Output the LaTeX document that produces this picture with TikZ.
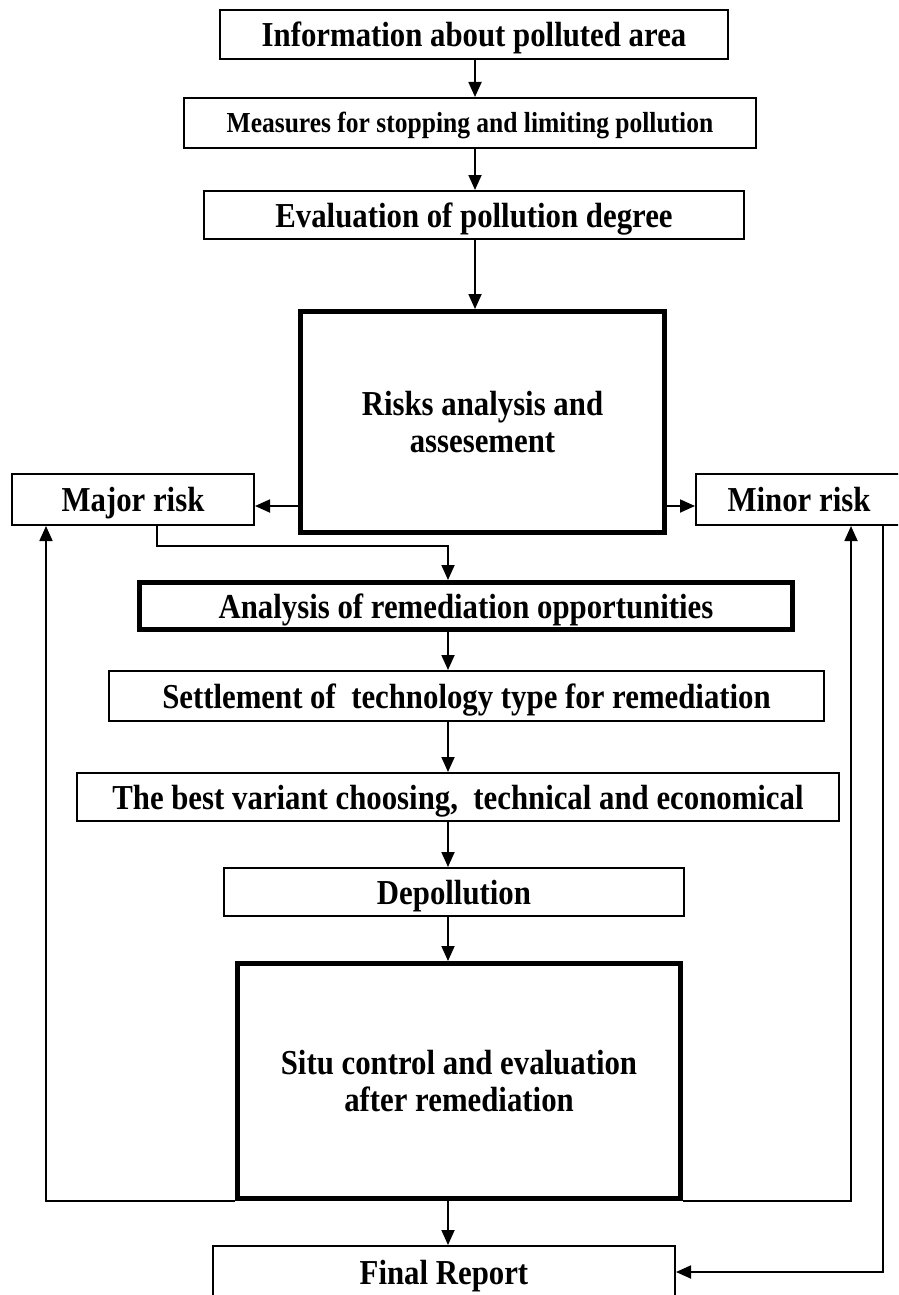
\documentclass[tikz,border=0pt]{standalone}
\usepackage{fontspec}
\setmainfont{Liberation Serif}
\newfontfamily\condfont[FakeStretch=0.88]{Liberation Serif}
\usetikzlibrary{arrows.meta}
\begin{document}
\begin{tikzpicture}[x=1pt,y=1pt,
  box/.style={draw=black, line width=2pt, fill=white, inner sep=0pt, align=center,
    font=\condfont\fontsize{35}{37}\selectfont\bfseries},
  thickbox/.style={box, line width=5pt},
  onerow/.style={text height=28pt, text depth=4pt},
  arr/.style={draw=black, line width=1.8pt, -{Triangle[length=15pt,width=13pt]}},
  ln/.style={draw=black, line width=1.8pt}]
\useasboundingbox (0,0) rectangle (898,-1295);
\clip (0,0) rectangle (898,-1295);
\fill[white] (0,0) rectangle (898,-1295);
% axes
\coordinate (tx) at (475,0);
\coordinate (ax) at (448,0);
\coordinate (ry) at (0,-506);
\coordinate (jy) at (0,-546);
% nodes
\node[box, onerow, minimum width=508pt, minimum height=49pt] (n1) at (474,-34.5) {Information about polluted area};
\node[box, minimum width=572pt, minimum height=50pt, text height=23pt, text depth=3.5pt, font=\condfont\fontsize{29}{32}\selectfont\bfseries] (n2) at (470,-123) {Measures for stopping and limiting pollution};
\node[box, onerow, minimum width=540pt, minimum height=48pt] (n3) at (474,-215) {Evaluation of pollution degree};
\node[thickbox, minimum width=364pt, minimum height=221pt] (n4) at (482.5,-422) {Risks analysis and\\assesement};
\node[box, onerow, minimum width=242pt, minimum height=51pt] (major) at (133,-499.5) {Major risk};
\node[box, onerow, minimum width=206pt, minimum height=51pt] (minor) at (799,-499.5) {Minor risk};
\node[thickbox, onerow, minimum width=653pt, minimum height=47pt] (anal) at (466,-606) {Analysis of remediation opportunities};
\node[box, onerow, minimum width=715pt, minimum height=50pt] (settle) at (466.5,-696) {Settlement of\ \ technology type for remediation};
\node[box, onerow, minimum width=762pt, minimum height=48pt] (best) at (458,-797) {The best variant choosing,\ \ technical and economical};
\node[box, onerow, minimum width=460pt, minimum height=48pt] (depol) at (454,-892) {Depollution};
\node[thickbox, minimum width=443pt, minimum height=235pt] (situ) at (459,-1081) {Situ control and evaluation\\after remediation};
\node[box, onerow, minimum width=462pt, minimum height=52pt] (final) at (444,-1272) {Final Report};
% connectors, top axis
\draw[arr] (n1.south -| tx) -- (n2.north -| tx);
\draw[arr] (n2.south -| tx) -- (n3.north -| tx);
\draw[arr] (n3.south -| tx) -- (n4.north -| tx);
% side branches
\draw[arr] (n4.west |- ry) -- (major.east |- ry);
\draw[arr] (n4.east |- ry) -- (minor.west |- ry);
% major risk to analysis
\draw[arr] ([xshift=146pt]major.south west) |- (jy -| ax) -- (anal.north -| ax);
% lower axis
\draw[arr] (anal.south -| ax) -- (settle.north -| ax);
\draw[arr] (settle.south -| ax) -- (best.north -| ax);
\draw[arr] (best.south -| ax) -- (depol.north -| ax);
\draw[arr] (depol.south -| ax) -- (situ.north -| ax);
\draw[arr] (situ.south -| ax) -- (final.north -| ax);
% feedback loops
\draw[arr] (situ.south west) -| ([xshift=35pt]major.south west);
\draw[arr] (situ.south east) -| ([xshift=156pt]minor.south west);
\draw[arr] ([xshift=188pt]minor.south west) |- (final.east);
\end{tikzpicture}
\end{document}
